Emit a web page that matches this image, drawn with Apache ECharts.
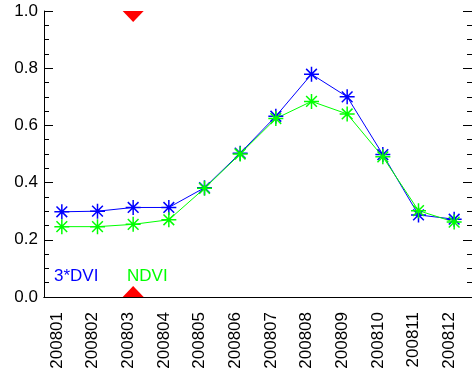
<!DOCTYPE html>
<html>
  <head>
    <meta charset="utf-8" />
    <script src="https://cdn.jsdelivr.net/npm/echarts@6/dist/echarts.min.js"></script>
    <title></title>
  </head>
  <body style="margin:0">
    <style type="text/css">
      #demo {
        width: 472px;
        height: 376px;
      }
    </style>
    <div id="demo"></div>
  </body>
  <script type="text/javascript">
    // months on the x axis
    const months = ['200801', '200802', '200803', '200804', '200805', '200806',
      '200807', '200808', '200809', '200810', '200811', '200812']
    // 3*DVI (blue)
    const dvi3 = [0.298, 0.300, 0.313, 0.313, 0.382, 0.503, 0.632, 0.779, 0.700, 0.498, 0.287, 0.272]
    // NDVI (green)
    const ndvi = [0.246, 0.246, 0.254, 0.270, 0.380, 0.500, 0.624, 0.684, 0.640, 0.490, 0.302, 0.262]
    // red markers on the chosen month
    const markMonth = '200803'
    const markValues = [1.0, 0.0]

    const starPath = 'path://M0,7L14,7M7,0L7,14M2,2L12,12M2,12L12,2'
    const font = 'Liberation Sans'

    var chart = echarts.init(document.getElementById('demo'))

    function lineSeries(name, data, color) {
      return {
        name: name,
        type: 'line',
        data: data,
        symbol: starPath,
        symbolSize: 15,
        showSymbol: true,
        lineStyle: { color: color, width: 1 },
        itemStyle: { color: 'none', borderColor: color, borderWidth: 1.5 },
        animation: false
      }
    }

    var option = {
      animation: false,
      backgroundColor: '#fff',
      grid: { left: 44, top: 11, right: -7, bottom: 79 },
      xAxis: [
        {
          type: 'category',
          data: months,
          position: 'bottom',
          boundaryGap: true,
          axisLine: { lineStyle: { color: '#000', width: 1 } },
          axisTick: { inside: true, length: 5, lineStyle: { color: '#000' } },
          axisLabel: {
            rotate: 90,
            interval: 0,
            margin: 15,
            verticalAlign: 'bottom',
            lineHeight: 10,
            fontSize: 17,
            fontFamily: font,
            color: '#000'
          }
        },
        {
          type: 'category',
          data: months,
          position: 'top',
          boundaryGap: true,
          axisLine: { lineStyle: { color: '#000', width: 1 } },
          axisTick: { inside: true, length: 5, lineStyle: { color: '#000' } },
          axisLabel: { show: false }
        }
      ],
      yAxis: [
        {
          type: 'value',
          position: 'left',
          min: 0,
          max: 1,
          interval: 0.2,
          axisLine: { show: true, lineStyle: { color: '#000', width: 1 } },
          axisTick: { show: true, inside: true, length: 9, lineStyle: { color: '#000' } },
          minorTick: { show: true, splitNumber: 4, length: 5, lineStyle: { color: '#000' } },
          splitLine: { show: false },
          axisLabel: {
            margin: 6,
            fontSize: 17,
            fontFamily: font,
            color: '#000',
            formatter: function (v) { return v.toFixed(1) }
          }
        },
        {
          type: 'value',
          position: 'right',
          min: 0,
          max: 1,
          interval: 0.2,
          axisLine: { show: true, lineStyle: { color: '#000', width: 1 } },
          axisTick: { show: true, inside: true, length: 9, lineStyle: { color: '#000' } },
          minorTick: { show: true, splitNumber: 4, length: 5, lineStyle: { color: '#000' } },
          splitLine: { show: false },
          axisLabel: { show: false }
        }
      ],
      graphic: [
        {
          type: 'text', left: 54, top: 268,
          style: { text: '3*DVI', fill: '#0000ff', font: '17px "Liberation Sans"' }
        },
        {
          type: 'text', left: 127, top: 268,
          style: { text: 'NDVI', fill: '#00ff00', font: '17px "Liberation Sans"' }
        }
      ],
      series: [
        lineSeries('3*DVI', dvi3, '#0000ff'),
        lineSeries('NDVI', ndvi, '#00ff00'),
        {
          type: 'scatter',
          symbol: 'triangle',
          symbolSize: [21, 11],
          itemStyle: { color: '#ff0000', opacity: 1 },
          data: markValues.map(function (v) {
            return {
              value: [markMonth, v],
              symbolRotate: v > 0.5 ? 180 : 0,
              symbolOffset: [0, v > 0.5 ? 5.5 : -5.5]
            }
          })
        }
      ]
    }

    chart.setOption(option)
  </script>
</html>
